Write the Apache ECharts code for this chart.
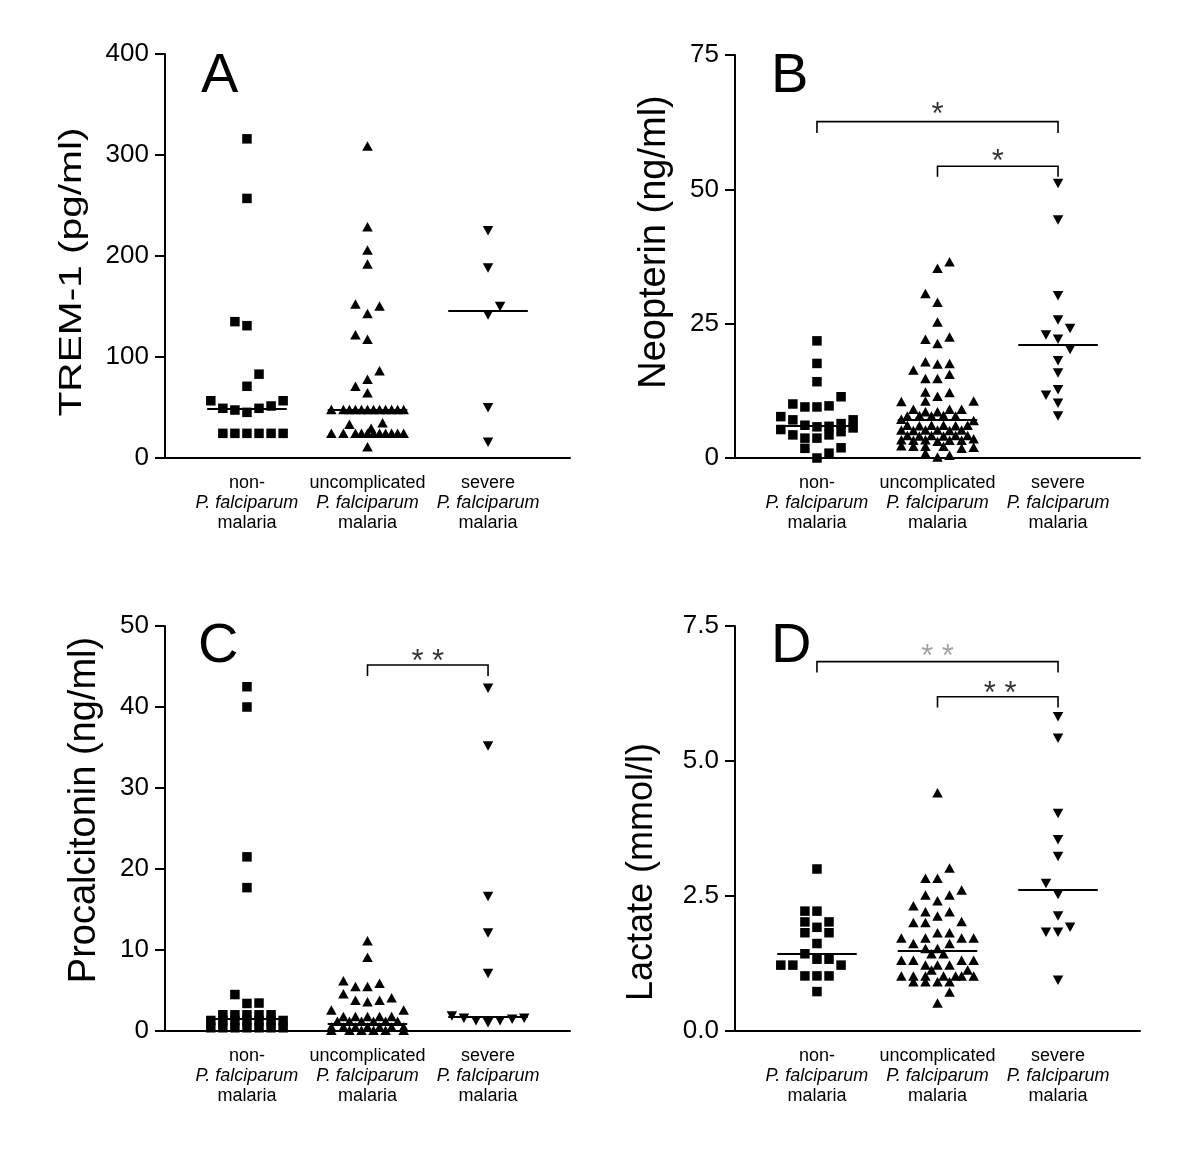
<!DOCTYPE html>
<html>
<head>
<meta charset="utf-8">
<script src="https://cdn.jsdelivr.net/npm/echarts@6/dist/echarts.min.js"></script>
<style>
  html, body { margin: 0; background: #fff; }
  #main { width: 1200px; height: 1156px; }
</style>
</head>
<body>
<div id="main"></div>
<script>
// group names on the x axis (middle line is italic)
const groupTop = ['non-', 'uncomplicated', 'severe'];
const groupMid = 'P. falciparum';
const groupBottom = 'malaria';

// each point: [column offset in the dot plot, value]
// A - TREM-1 (pg/ml)
const trem_non = [[0,316],[0,257],[-1,135],[0,131],[1,83],[0,71],
  [-3,56.7],[-2,49.2],[-1,47.5],[0,45.2],[1,49.2],[2,51.5],[3,56.7],
  [-2,24.4],[-1,24.4],[0,24.4],[1,24.4],[2,24.4],[3,24.4]];
const trem_unc = [[0,309],[0,229],[0,206],[0,192],[-1,152.5],[1,150.5],[0,143],
  [-1,122],[0,117.5],[1,86.4],[0,78],[-1,71],[0,64.5],
  [-3,48],[-2,48],[-1.5,48],[-1,48],[-0.5,48],[0,48],[0.5,48],[1,48],[1.5,48],[2,48],[2.5,48],[3,48],
  [-1.5,33.3],[1.25,35],[0.3,29.4],
  [-3,24.4],[-2,24.4],[-1,24.4],[-0.5,24.4],[0,24.4],[0.5,24.4],[1,24.4],[1.5,24.4],[2,24.4],[2.5,24.4],[3,24.4],
  [0,11.2]];
const trem_sev = [[0,225],[0,188],[1,150],[0,141.6],[0,49.8],[0,15.5]];
const trem_med = [49.2, 48, 145.8];

// B - Neopterin (ng/ml)
const neo_non = [[0,21.8],[0,17.6],[0,14.2],[2,11.4],[-2,10.05],[-1,9.5],[0,9.5],[1,9.7],
  [-3,7.7],[-2,7.1],[3,7.1],[-1,6.1],[0,5.8],[1,5.9],[2,6.4],[-3,5.3],[3,5.6],
  [-2,4.3],[-1,3.7],[0,3.7],[1,4.3],[2,4.9],[-1,1.8],[2,1.9],[1,0.9],[0,0]];
const neo_unc = [[1,36.5],[0,35.3],[-1,30.6],[0,29.0],[0,25.3],
  [-1,22.1],[1,22.5],[0,21.3],
  [-2,16.4],[-1,17.9],[0,17.5],[1,17.6],
  [-1,14.8],[0,14.8],[1,15.6],
  [-1,12.3],[0,11.5],[1,12.2],
  [-3,10.5],[-1,10.6],[3,10.6],
  [-2,9.06],[-1,8.6],[0,8.6],[1,9.06],[2,9.06],
  [-2.5,7.8],[-1.5,7.9],[-0.5,7.8],[0.5,7.9],[1.5,7.8],
  [-3,7.2],[3,7.0],
  [-2.5,6.1],[-1.5,6.0],[-0.5,6.1],[0.5,6.1],[1.5,6.0],[2.5,6.1],
  [-3,5.2],[-2,5.1],[-1,5.2],[0,5.2],[1,5.1],[2,5.2],
  [-2.5,4.2],[-1.5,4.1],[-0.5,4.2],[0.5,4.1],[1.5,4.2],[2.5,4.2],
  [-3,3.4],[-2,3.3],[-1,3.4],[0,3.1],[1,3.3],[2,3.3],[3,3.6],
  [-3,2.3],[-2,2.2],[-1,2.2],[0.5,2.2],[2,1.8],[3,2.0],
  [-1,0.9],[0,0.2],[1,0.5]];
const neo_sev = [[0,51.1],[0,44.3],[0,30.2],[0,25.7],[1,24.1],[-1,22.9],[0,22.1],
  [1,20.2],[0,18.1],[0,15.8],[-1,11.7],[0,12.7],[0,10.2],[0,7.8]];
const neo_med = [5.95, 7.2, 21.0];
const neo_brackets = [[1, 3, 62.6, 60.5], [2, 3, 54.3, 52.35]];
const neo_stars = [[2, 64.8, '*'], [2.5, 56.1, '*']];

// C - Procalcitonin (ng/ml)
const pct_non = [[0,42.5],[0,40.0],[0,21.5],[0,17.7],[-1,4.5],[0,3.4],[1,3.45],
  [-2,2.0],[-1,2.0],[0,2.0],[1,2.0],[2,2.0],
  [-3,1.3],[-2,1.3],[-1,1.3],[0,1.3],[1,1.3],[2,1.3],[3,1.3],
  [-3,0.4],[-2,0.4],[-1,0.4],[0,0.4],[1,0.4],[2,0.4],[3,0.4]];
const pct_unc = [[0,11.15],[0,9.1],[-2,6.2],[-1,5.5],[0,5.5],[1,5.9],
  [-2,4.6],[-1,3.8],[0,3.6],[1,3.8],[2,4.1],[-3,2.6],[3,2.6],
  [-2,1.8],[-1,1.8],[0,1.8],[1,1.8],[2,1.8],
  [-2.5,1.2],[-1.5,1.2],[-0.5,1.2],[0.5,1.2],[1.5,1.2],[2.5,1.2],
  [-3,0.5],[-2,0.5],[-1,0.5],[0,0.5],[1,0.5],[2,0.5],[3,0.5],
  [-3,0.1],[-1.5,0.1],[-0.5,0.1],[0.5,0.1],[1.5,0.1],[3,0.1]];
const pct_sev = [[0,42.3],[0,35.2],[0,16.6],[0,12.1],[0,7.1],
  [-3,1.85],[-2,1.57],[-1,1.27],[0,1.03],[1,1.27],[2,1.44],[3,1.57]];
const pct_med = [1.56, 0.9, 1.7];
const pct_brackets = [[2, 3, 45.19, 43.83]];
const pct_stars = [[2.5, 46.2, '* *']];

// D - Lactate (mmol/l)
const lac_non = [[0,3.0],[-1,2.22],[0,2.22],[-1,2.02],[1,2.02],[0,1.92],[-1,1.82],[1,1.82],
  [0,1.62],[-1,1.43],[0,1.33],[1,1.33],[-3,1.22],[-2,1.22],[2,1.22],
  [-1,1.02],[0,1.02],[1,1.02],[0,0.73]];
const lac_unc = [[0,4.41],[1,3.02],[-1,2.83],[0,2.83],[2,2.61],[-1,2.52],[1,2.52],[0,2.41],
  [-2,2.32],[-1,2.21],[1,2.21],[0,2.13],[-2,2.01],[-1,2.01],[2,2.03],[0,1.82],[1,1.82],
  [-3,1.72],[-2,1.62],[-1,1.72],[2,1.72],[3,1.72],[1,1.62],[-1,1.53],[0,1.53],
  [-0.5,1.43],[0.5,1.43],[-3,1.31],[-2,1.31],[2,1.31],[3,1.31],
  [-1,1.22],[0,1.22],[1,1.22],[-0.5,1.13],[2.5,1.13],
  [-3,1.02],[-2,1.02],[-1,1.02],[0.5,1.02],[1.5,1.02],[2,1.02],[3,1.02],
  [-2,0.91],[-1,0.91],[0,0.91],[1,0.91],[1,0.72],[0,0.52]];
const lac_sev = [[0,5.82],[0,5.42],[0,4.03],[0,3.54],[0,3.23],[-1,2.73],[0,2.53],
  [0,2.13],[1,1.92],[-1,1.83],[0,1.83],[0,0.94]];
const lac_med = [1.43, 1.49, 2.62];
const lac_brackets = [[1, 3, 6.84, 6.64], [2, 3, 6.19, 5.99]];
const lac_stars = [[2, 7.02, '* *'], [2.52, 6.35, '* *']];

const FONT = '"Liberation Sans", Arial, Helvetica, sans-serif';
const COL = 0.1;    // one dot-plot column in x units
const HALF = 0.33;  // half width of median bar

const panels = [
  { letter: 'A', letterPos: [201, 77], title: 'TREM-1 (pg/ml)', titlePos: [72, 272], titleSize: 32, titleStretch: 1.27,
    grid: { left: 165, top: 54, width: 405, height: 404 }, yMax: 400, yStep: 100, yFmt: v => String(v),
    groups: [trem_non, trem_unc, trem_sev], med: trem_med, brackets: [], stars: [], starColors: [] },
  { letter: 'B', letterPos: [771, 77], title: 'Neopterin (ng/ml)', titlePos: [655, 242], titleSize: 38, titleStretch: 1,
    grid: { left: 735, top: 55, width: 405, height: 403 }, yMax: 75, yStep: 25, yFmt: v => String(v),
    groups: [neo_non, neo_unc, neo_sev], med: neo_med, brackets: neo_brackets, stars: neo_stars, starColors: ['#000', '#000'] },
  { letter: 'C', letterPos: [198, 647], title: 'Procalcitonin (ng/ml)', titlePos: [85, 810], titleSize: 38, titleStretch: 1,
    grid: { left: 165, top: 626, width: 405, height: 405 }, yMax: 50, yStep: 10, yFmt: v => String(v),
    groups: [pct_non, pct_unc, pct_sev], med: pct_med, brackets: pct_brackets, stars: pct_stars, starColors: ['#000'] },
  { letter: 'D', letterPos: [771, 647], title: 'Lactate (mmol/l)', titlePos: [642, 872], titleSize: 36, titleStretch: 1,
    grid: { left: 735, top: 626, width: 405, height: 405 }, yMax: 7.5, yStep: 2.5, yFmt: v => v.toFixed(1),
    groups: [lac_non, lac_unc, lac_sev], med: lac_med, brackets: lac_brackets, stars: lac_stars, starColors: ['#8c8c8c', '#000'] }
];

const markers = [
  { symbol: 'rect', symbolSize: 9.5, symbolRotate: 0 },
  { symbol: 'triangle', symbolSize: [10.5, 9.5], symbolRotate: 0 },
  { symbol: 'triangle', symbolSize: [10.5, 9.5], symbolRotate: 180 }
];

const grids = [], xAxes = [], yAxes = [], series = [], graphics = [];

panels.forEach((p, i) => {
  grids.push(p.grid);
  xAxes.push({
    gridIndex: i, type: 'value', min: 0.32, max: 3.68,
    axisLine: { show: true, lineStyle: { color: '#000', width: 2 } },
    axisTick: { show: false },
    splitLine: { show: false },
    axisLabel: {
      customValues: [1, 2, 3],
      margin: 15,
      color: '#000',
      formatter: v => '{n|' + groupTop[Math.round(v) - 1] + '}\n{i|' + groupMid + '}\n{n|' + groupBottom + '}',
      rich: {
        n: { fontSize: 18, fontFamily: FONT, color: '#000', lineHeight: 20 },
        i: { fontSize: 18, fontFamily: FONT, fontStyle: 'italic', color: '#000', lineHeight: 20 }
      }
    }
  });
  yAxes.push({
    gridIndex: i, type: 'value', min: 0, max: p.yMax, interval: p.yStep,
    axisLine: { show: true, lineStyle: { color: '#000', width: 2 } },
    axisTick: { show: true, length: 10, lineStyle: { color: '#000', width: 2 } },
    splitLine: { show: false },
    axisLabel: { margin: 16, fontSize: 26, fontFamily: FONT, color: '#000', formatter: p.yFmt }
  });

  p.groups.forEach((pts, g) => {
    series.push(Object.assign({
      type: 'scatter', xAxisIndex: i, yAxisIndex: i, silent: true, z: 2,
      itemStyle: { color: '#000', opacity: 1 },
      data: pts.map(d => [g + 1 + d[0] * COL, d[1]])
    }, markers[g]));
  });

  // median bars
  series.push({
    type: 'lines', coordinateSystem: 'cartesian2d', xAxisIndex: i, yAxisIndex: i, silent: true, z: 3,
    lineStyle: { color: '#000', width: 2, opacity: 1, curveness: 0 },
    data: p.med.map((m, g) => ({ coords: [[g + 1 - HALF, m], [g + 1 + HALF, m]] }))
  });

  if (p.brackets.length) {
    series.push({
      type: 'lines', coordinateSystem: 'cartesian2d', polyline: true, xAxisIndex: i, yAxisIndex: i, silent: true, z: 3,
      lineStyle: { color: '#000', width: 1.6, opacity: 1 },
      data: p.brackets.map(b => ({ coords: [[b[0], b[3]], [b[0], b[2]], [b[1], b[2]], [b[1], b[3]]] }))
    });
    series.push({
      type: 'scatter', xAxisIndex: i, yAxisIndex: i, silent: true, symbolSize: 0, z: 4,
      data: p.stars.map((s, k) => ({
        value: [s[0], s[1]],
        label: { show: true, formatter: s[2], position: 'inside', offset: [0, 6],
                 fontSize: 31, fontFamily: FONT, color: p.starColors[k] }
      }))
    });
  }

  graphics.push({
    type: 'text', x: p.letterPos[0], y: p.letterPos[1],
    style: { text: p.letter, fontSize: 56, fontFamily: FONT, fill: '#000',
             align: 'left', verticalAlign: 'middle', textAlign: 'left', textVerticalAlign: 'middle' }
  });
  graphics.push({
    type: 'text', x: p.titlePos[0], y: p.titlePos[1], rotation: Math.PI / 2, scaleX: p.titleStretch,
    style: { text: p.title, fontSize: p.titleSize, fontFamily: FONT, fill: '#000',
             align: 'center', verticalAlign: 'middle', textAlign: 'center', textVerticalAlign: 'middle' }
  });
});

const chart = echarts.init(document.getElementById('main'), null, { renderer: 'canvas' });
chart.setOption({
  animation: false,
  backgroundColor: '#fff',
  grid: grids,
  xAxis: xAxes,
  yAxis: yAxes,
  series: series,
  graphic: graphics
});
</script>
</body>
</html>
